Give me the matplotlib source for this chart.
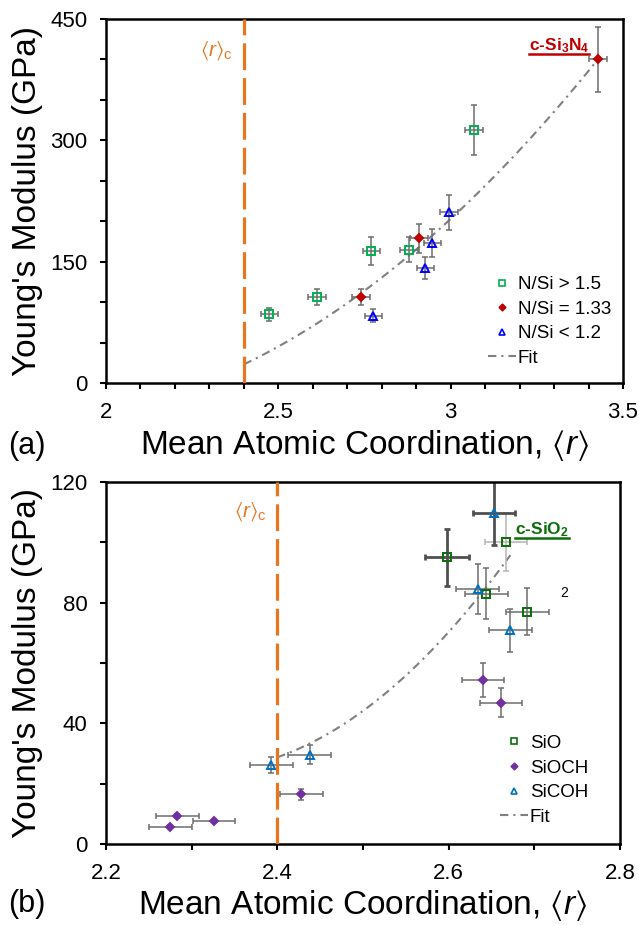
import numpy as np
import matplotlib
matplotlib.use('Agg')
import matplotlib.pyplot as plt
from matplotlib.lines import Line2D
from matplotlib.ticker import MultipleLocator, FuncFormatter

plt.rcParams['font.family'] = 'Liberation Sans'
plt.rcParams['mathtext.fontset'] = 'custom'
plt.rcParams['mathtext.rm'] = 'Liberation Sans'
plt.rcParams['mathtext.it'] = 'Liberation Sans:italic'
plt.rcParams['mathtext.bf'] = 'Liberation Sans:bold'
plt.rcParams['mathtext.fallback'] = 'stixsans'

# critical mean coordination (rigidity percolation threshold)
r_crit = 2.4

# (a) SiN films, grouped by N/Si ratio
nsi_hi_r = [2.474, 2.613, 2.770, 2.879, 3.069]
nsi_hi_E = [85, 106, 163, 165, 313]
nsi_hi_rerr = [0.025, 0.026, 0.025, 0.026, 0.026]
nsi_hi_Eerr = [8, 10, 17, 16, 31]

nsi_mid_r = [2.739, 2.909, 3.427]
nsi_mid_E = [106, 179, 400]
nsi_mid_rerr = [0.026, 0.026, 0.026]
nsi_mid_Eerr = [10, 18, 40]

nsi_lo_r = [2.776, 2.926, 2.947, 2.995]
nsi_lo_E = [83, 142, 173, 211]
nsi_lo_rerr = [0.025, 0.025, 0.025, 0.025]
nsi_lo_Eerr = [8, 14, 17, 22]

# quadratic fit in (r - r_crit), highest power first
fit_a_coef = [157.6, 205.2, 23.0]
fit_a_rmax = 3.427

# (b) SiO based films
sio_r = [2.598, 2.667, 2.644, 2.692]
sio_E = [95, 100, 83, 77]
sio_rerr = [0.026, 0.025, 0.025, 0.025]
sio_Eerr = [9.5, 9.7, 8.4, 7.7]

sioch_r = [2.640, 2.661, 2.428, 2.283, 2.275, 2.326]
sioch_E = [54.4, 46.9, 16.5, 9.4, 5.8, 7.8]
sioch_rerr = [0.025, 0.025, 0.025, 0.025, 0.025, 0.025]
sioch_Eerr = [5.5, 4.7, 1.7, 0.6, 0.5, 0.5]

sicoh_r = [2.653, 2.634, 2.672, 2.393, 2.438]
sicoh_E = [109.7, 84.5, 70.8, 26.3, 29.7]
sicoh_rerr = [0.025, 0.025, 0.025, 0.025, 0.025]
sicoh_Eerr = [10.6, 8.4, 7.0, 2.6, 3.0]

fit_b_coef = [537.6, 99.7, 28.8]
fit_b_rmax = 2.672

orange = '#e8761e'
fit_gray = '#808080'
bar_gray = '#6e6e6e'
fit_dashes = (4, 2.4, 1, 2.4)


def style_axes(ax, xlim, ylim, xmaj, xmin, ymaj, ymin):
    ax.set_xlim(*xlim)
    ax.set_ylim(*ylim)
    for s in ax.spines.values():
        s.set_linewidth(1.8)
    ax.xaxis.set_major_locator(MultipleLocator(xmaj))
    ax.xaxis.set_minor_locator(MultipleLocator(xmin))
    ax.yaxis.set_major_locator(MultipleLocator(ymaj))
    ax.yaxis.set_minor_locator(MultipleLocator(ymin))
    ax.xaxis.set_major_formatter(FuncFormatter(lambda v, p: f'{v:g}'))
    ax.tick_params(which='both', direction='out', length=4.5, width=1.5,
                   labelsize=16, pad=9, top=False, right=False)


def draw_series(ax, r, E, rerr, Eerr, marker, ms, edge, face,
                heavy=(), light=()):
    for i in range(len(r)):
        if i in heavy:
            col, lw = '#505050', 2.0
        elif i in light:
            col, lw = '#b4b4b4', 1.1
        else:
            col, lw = bar_gray, 1.1
        ax.errorbar(r[i], E[i], xerr=rerr[i], yerr=Eerr[i], fmt='none',
                    ecolor=col, elinewidth=lw, capsize=2.5, capthick=lw,
                    zorder=2)
    ax.plot(r, E, ls='none', marker=marker, ms=ms, mec=edge, mfc=face,
            mew=1.4, zorder=3)


def draw_fit(ax, coef, rmax):
    rr = np.linspace(r_crit, rmax, 200)
    ax.plot(rr, np.polyval(coef, rr - r_crit), color=fit_gray, lw=1.5,
            dashes=fit_dashes, zorder=1)


def add_legend(ax, handles, labels, anchor):
    ax.legend(handles, labels, loc='center left', bbox_to_anchor=anchor,
              frameon=False, fontsize=13.5, borderpad=0, borderaxespad=0,
              handlelength=1.5, handletextpad=0.1, labelspacing=0.4)


fig = plt.figure(figsize=(6.39, 9.25), dpi=100)
W, H = 639, 925
ax_a = fig.add_axes([106 / W, 1 - 383 / H, 517 / W, 364 / H])
ax_b = fig.add_axes([106 / W, 1 - 844.3 / H, 514 / W, 362.6 / H])

# ---- (a) ----
style_axes(ax_a, (2, 3.5), (0, 450), 0.5, 0.1, 150, 50)
draw_fit(ax_a, fit_a_coef, fit_a_rmax)
draw_series(ax_a, nsi_hi_r, nsi_hi_E, nsi_hi_rerr, nsi_hi_Eerr,
            's', 6, '#00b050', 'none')
draw_series(ax_a, nsi_mid_r, nsi_mid_E, nsi_mid_rerr, nsi_mid_Eerr,
            'D', 4.5, '#c00000', '#c00000')
draw_series(ax_a, nsi_lo_r, nsi_lo_E, nsi_lo_rerr, nsi_lo_Eerr,
            '^', 6, '#0000ff', 'none')
ax_a.axvline(r_crit, color=orange, lw=2.3, dashes=(8.4, 2.5), zorder=4)
ax_a.text(2.368, 411, r'$\langle r\rangle_{\mathrm{c}}$', color=orange,
          fontsize=15, ha='right', va='center')
lbl_a = ax_a.text(3.227, 411.5, r'c-Si$_\mathbf{3}$N$_\mathbf{4}$',
                  color='#c00000', fontsize=12.5, fontweight='bold',
                  ha='left', va='baseline')

handles_a = [
    Line2D([], [], ls='none', marker='s', ms=4.5, mec='#00b050', mfc='none', mew=1.2),
    Line2D([], [], ls='none', marker='D', ms=3.5, mec='#c00000', mfc='#c00000'),
    Line2D([], [], ls='none', marker='^', ms=4.5, mec='#0000ff', mfc='none', mew=1.2),
    Line2D([], [], color=fit_gray, lw=1.5, dashes=fit_dashes),
]
add_legend(ax_a, handles_a, ['N/Si > 1.5', 'N/Si = 1.33', 'N/Si < 1.2', 'Fit'],
           (0.738, 0.169))

ax_a.set_ylabel("Young's Modulus (GPa)", fontsize=24)
ax_a.yaxis.set_label_coords(-(106 - 27.5) / 517, 0.5)
ax_a.yaxis.label.set_va('center')
ax_a.set_xlabel(r'Mean Atomic Coordination, $\langle r\rangle$', fontsize=24)
ax_a.xaxis.set_label_coords(0.5, -71 / 364)
ax_a.xaxis.label.set_va('baseline')
fig.text(27 / W, 1 - 446 / H, '(a)', fontsize=22, ha='center', va='center')

# ---- (b) ----
style_axes(ax_b, (2.2, 2.8), (0, 120), 0.2, 0.1, 40, 20)
draw_fit(ax_b, fit_b_coef, fit_b_rmax)
draw_series(ax_b, sio_r, sio_E, sio_rerr, sio_Eerr,
            's', 6, '#0b6e0b', 'none', heavy=(0,), light=(1,))
draw_series(ax_b, sioch_r, sioch_E, sioch_rerr, sioch_Eerr,
            'D', 4.2, '#7030a0', '#7030a0')
draw_series(ax_b, sicoh_r, sicoh_E, sicoh_rerr, sicoh_Eerr,
            '^', 6, '#0070c0', 'none', heavy=(0,))
ax_b.axvline(r_crit, color=orange, lw=2.3, dashes=(8.4, 2.5), zorder=4)
ax_b.text(2.388, 110, r'$\langle r\rangle_{\mathrm{c}}$', color=orange,
          fontsize=15, ha='right', va='center')
lbl_b = ax_b.text(2.678, 102.5, r'c-SiO$_\mathbf{2}$', color='#0b6e0b',
                  fontsize=12.5, fontweight='bold', ha='left', va='baseline')
ax_b.text(2.735, 83.3, '2', fontsize=10, ha='center', va='center')

handles_b = [
    Line2D([], [], ls='none', marker='s', ms=4.5, mec='#0b6e0b', mfc='none', mew=1.2),
    Line2D([], [], ls='none', marker='D', ms=3.5, mec='#7030a0', mfc='#7030a0'),
    Line2D([], [], ls='none', marker='^', ms=4.5, mec='#0070c0', mfc='none', mew=1.2),
    Line2D([], [], color=fit_gray, lw=1.5, dashes=fit_dashes),
]
add_legend(ax_b, handles_b, ['SiO', 'SiOCH', 'SiCOH', 'Fit'], (0.766, 0.1765))

ax_b.set_ylabel("Young's Modulus (GPa)", fontsize=24)
ax_b.yaxis.set_label_coords(-(106 - 27.5) / 514, 0.5)
ax_b.yaxis.label.set_va('center')
ax_b.set_xlabel(r'Mean Atomic Coordination, $\langle r\rangle$', fontsize=24)
ax_b.xaxis.set_label_coords(0.5, -70 / 362.6)
ax_b.xaxis.label.set_va('baseline')
fig.text(27 / W, 1 - 904 / H, '(b)', fontsize=22, ha='center', va='center')

# underline the crystal reference labels just below their baseline
fig.canvas.draw()
renderer = fig.canvas.get_renderer()
inv = fig.transFigure.inverted()
for txt in (lbl_a, lbl_b):
    bb = txt.get_window_extent(renderer=renderer)
    base = txt.get_transform().transform(txt.get_position())[1]
    (x0, y0), (x1, _) = inv.transform([[bb.x0, base - 3.5], [bb.x1, base]])
    fig.add_artist(Line2D([x0, x1], [y0, y0], transform=fig.transFigure,
                          color=txt.get_color(), lw=1.8))

fig.savefig('out.png', dpi=100)
